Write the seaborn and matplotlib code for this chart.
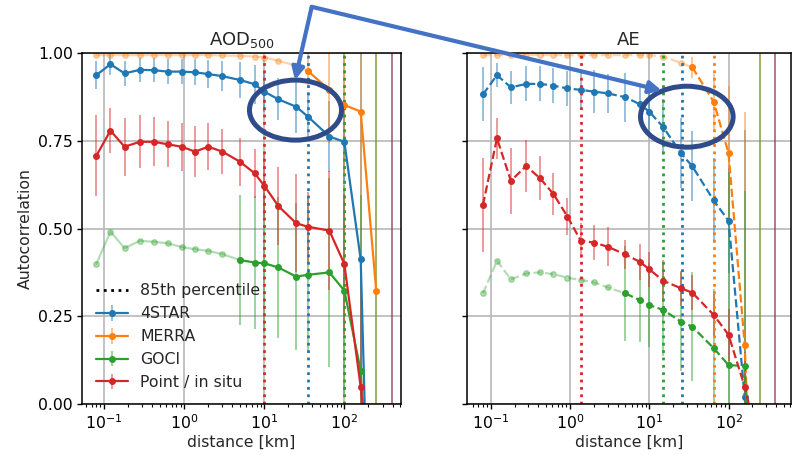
import numpy as np
import matplotlib
matplotlib.use("Agg")
import matplotlib.pyplot as plt
from matplotlib.colors import to_rgba
from matplotlib.lines import Line2D
from matplotlib.patches import Ellipse, FancyArrowPatch
from matplotlib.ticker import FormatStrFormatter
import seaborn as sns

nan = np.nan

# --- data ---
dist = [0.08, 0.12, 0.18, 0.28, 0.42, 0.62, 0.93, 1.37, 2.0, 3.0, 5.0, 7.6,
        10, 15, 25, 35, 65, 100, 160, 250, 390]

names = ["4STAR", "MERRA", "GOCI", "Point / in situ"]

# AOD500 panel
aod_4star = [0.937, 0.968, 0.942, 0.952, 0.951, 0.947, 0.947, 0.945, 0.940, 0.934, 0.923,
             0.911, 0.890, 0.868, 0.847, 0.819, 0.762, 0.747, 0.412, nan, -2.8]
aod_4star_err = [0.039, 0.03, 0.035, 0.035, 0.035, 0.035, 0.035, 0.037, 0.04, 0.042, 0.05,
                 0.055, 0.058, 0.06, 0.076, 0.07, 0.1, 0.12, 0.7, nan, 4.0]
aod_merra = [0.994, 0.994, 0.994, 0.994, 0.994, 0.994, 0.994, 0.994, 0.994, 0.993, 0.992,
             0.990, 0.987, 0.978, 0.964, 0.949, 0.895, 0.852, 0.833, 0.323, nan]
aod_merra_err = [nan] * 15 + [0.05, 0.15, 0.2, 0.4, 1.2, nan]
aod_goci = [0.399, 0.491, 0.444, 0.465, 0.462, 0.458, 0.447, 0.441, 0.436, 0.427, 0.410,
            0.403, 0.401, 0.389, 0.363, 0.368, 0.375, 0.323, 0.095, -0.665, nan]
aod_goci_err = [nan] * 10 + [0.185, 0.19, 0.2, 0.2, 0.21, 0.22, 0.27, 0.3, 0.5, 2.0, nan]
aod_point = [0.707, 0.779, 0.733, 0.747, 0.747, 0.740, 0.733, 0.719, 0.733, 0.719, 0.690,
             0.657, 0.622, 0.564, 0.515, 0.505, 0.494, 0.399, 0.048, nan, -0.67]
aod_point_err = [0.115, 0.064, 0.083, 0.075, 0.07, 0.066, 0.069, 0.072, 0.067, 0.065, 0.068,
                 0.07, 0.09, 0.11, 0.14, 0.1, 0.17, 0.2, 0.3, nan, 2.0]
aod_first_solid = [0, 15, 10, 0]
aod_p85 = [35, 100, 100, 10]

# AE panel
ae_4star = [0.882, 0.937, 0.902, 0.912, 0.912, 0.907, 0.899, 0.895, 0.890, 0.885, 0.874,
            0.854, 0.833, 0.789, 0.715, 0.677, 0.580, 0.522, 0.02, nan, -1.0]
ae_4star_err = [0.077, 0.035, 0.048, 0.05, 0.05, 0.05, 0.05, 0.055, 0.062, 0.055, 0.07,
                0.057, 0.07, 0.08, 0.1, 0.1, 0.12, 0.15, 0.76, nan, 2.2]
ae_merra = [0.994, 0.994, 0.994, 0.994, 0.994, 0.994, 0.994, 0.994, 0.994, 0.994, 0.994,
            0.994, 0.994, 0.990, 0.972, 0.959, 0.861, 0.715, 0.168, -0.93, nan]
ae_merra_err = [nan] * 15 + [0.03, 0.08, 0.19, 0.665, 2.2, nan]
ae_goci = [0.315, 0.408, 0.355, 0.372, 0.375, 0.370, 0.360, 0.353, 0.347, 0.332, 0.315,
           0.296, 0.282, 0.268, 0.235, 0.220, 0.159, 0.111, 0.108, -0.97, nan]
ae_goci_err = [nan] * 10 + [0.135, 0.12, 0.12, 0.13, 0.14, 0.155, 0.17, 0.55, 0.5, 2.2, nan]
ae_point = [0.567, 0.757, 0.636, 0.678, 0.643, 0.598, 0.534, 0.465, 0.460, 0.448, 0.426,
            0.405, 0.384, 0.351, 0.330, 0.317, 0.254, 0.197, 0.049, nan, -0.32]
ae_point_err = [0.135, 0.058, 0.094, 0.074, 0.063, 0.06, 0.052, 0.05, 0.05, 0.056, 0.04,
                0.052, 0.05, 0.06, 0.05, 0.05, 0.06, 0.075, 0.1, nan, 1.5]
ae_first_solid = [0, 15, 10, 0]
ae_p85 = [26, 66, 15, 1.36]

# --- style ---
sns.set_theme(style="ticks", rc={"axes.edgecolor": "black", "axes.linewidth": 1.1,
                                 "xtick.color": "black", "ytick.color": "black",
                                 "xtick.major.size": 3.5, "ytick.major.size": 3.5,
                                 "xtick.minor.size": 2, "xtick.major.width": 1,
                                 "ytick.major.width": 1, "xtick.minor.width": 0.8,
                                 "xtick.major.pad": 3, "ytick.major.pad": 3})
plt.rcParams["font.family"] = ["DejaVu Sans"]
colors = sns.color_palette("tab10")[:4]
FS = 11.3

fig = plt.figure(figsize=(8.08, 4.55), dpi=100)
ax1 = fig.add_axes([0.1015, 0.1121, 0.3948, 0.7714])
ax2 = fig.add_axes([0.5783, 0.1121, 0.4002, 0.7714])


def draw_panel(ax, vals, errs, first_solid, p85, ls):
    x = np.array(dist)
    handles = []
    for v, e, start, c in zip(vals, errs, first_solid, colors):
        y = np.array(v, dtype=float)
        yerr = np.array(e, dtype=float)
        if start > 0:
            ax.plot(x[:start + 1], y[:start + 1], linestyle=ls, marker="o", ms=4,
                    lw=1.6, color=c, alpha=0.35)
        sel = (np.arange(len(x)) >= start) & ~np.isnan(y)
        h = ax.errorbar(x[sel], y[sel], yerr=yerr[sel], linestyle=ls, marker="o",
                        ms=4, lw=1.6, color=c, ecolor=to_rgba(c, 0.5),
                        elinewidth=1.3, capsize=0)
        handles.append(h)
    for px, c in zip(p85, colors):
        ax.axvline(px, color=c, ls=":", lw=2)
    ax.set_xscale("log")
    ax.set_ylim(0, 1)
    ax.set_yticks([0, 0.25, 0.5, 0.75, 1.0])
    ax.yaxis.set_major_formatter(FormatStrFormatter("%.2f"))
    ax.grid(True, which="major", color="#b8b8b8", lw=1.2)
    ax.set_axisbelow(True)
    ax.tick_params(labelsize=FS)
    ax.set_xlabel("distance [km]", fontsize=FS, labelpad=2)
    return handles


h = draw_panel(ax1, [aod_4star, aod_merra, aod_goci, aod_point],
               [aod_4star_err, aod_merra_err, aod_goci_err, aod_point_err],
               aod_first_solid, aod_p85, "-")
draw_panel(ax2, [ae_4star, ae_merra, ae_goci, ae_point],
           [ae_4star_err, ae_merra_err, ae_goci_err, ae_point_err],
           ae_first_solid, ae_p85, "--")

ax1.set_xlim(0.053, 510)
ax2.set_xlim(0.0507, 607)
ax2.tick_params(labelleft=False)
ax1.set_ylabel("Autocorrelation", fontsize=FS)
ax1.set_title("AOD$_{500}$", fontsize=13)
ax2.set_title("AE", fontsize=13)

p85_handle = Line2D([], [], color="black", ls=":", lw=2)
ax1.legend([p85_handle] + h, ["85th percentile"] + names, loc="lower left",
           frameon=False, fontsize=FS)

# --- overlay annotations (figure fraction) ---
navy = "#2f4b8a"
arrow_blue = "#4472c4"
fig.add_artist(Ellipse((0.3657, 0.758), 0.1139, 0.1319, transform=fig.transFigure,
                       fill=False, ec=navy, lw=3.6, zorder=10))
fig.add_artist(Ellipse((0.850, 0.7435), 0.1146, 0.134, transform=fig.transFigure,
                       fill=False, ec=navy, lw=3.6, zorder=10))
apex = (0.3858, 0.985)
for tip in [(0.3651, 0.824), (0.819, 0.801)]:
    fig.add_artist(FancyArrowPatch(apex, tip, transform=fig.transFigure,
                                   arrowstyle="-|>", mutation_scale=18, lw=3,
                                   color=arrow_blue, shrinkA=0, shrinkB=0,
                                   zorder=11))

fig.savefig("out.png", dpi=100)
